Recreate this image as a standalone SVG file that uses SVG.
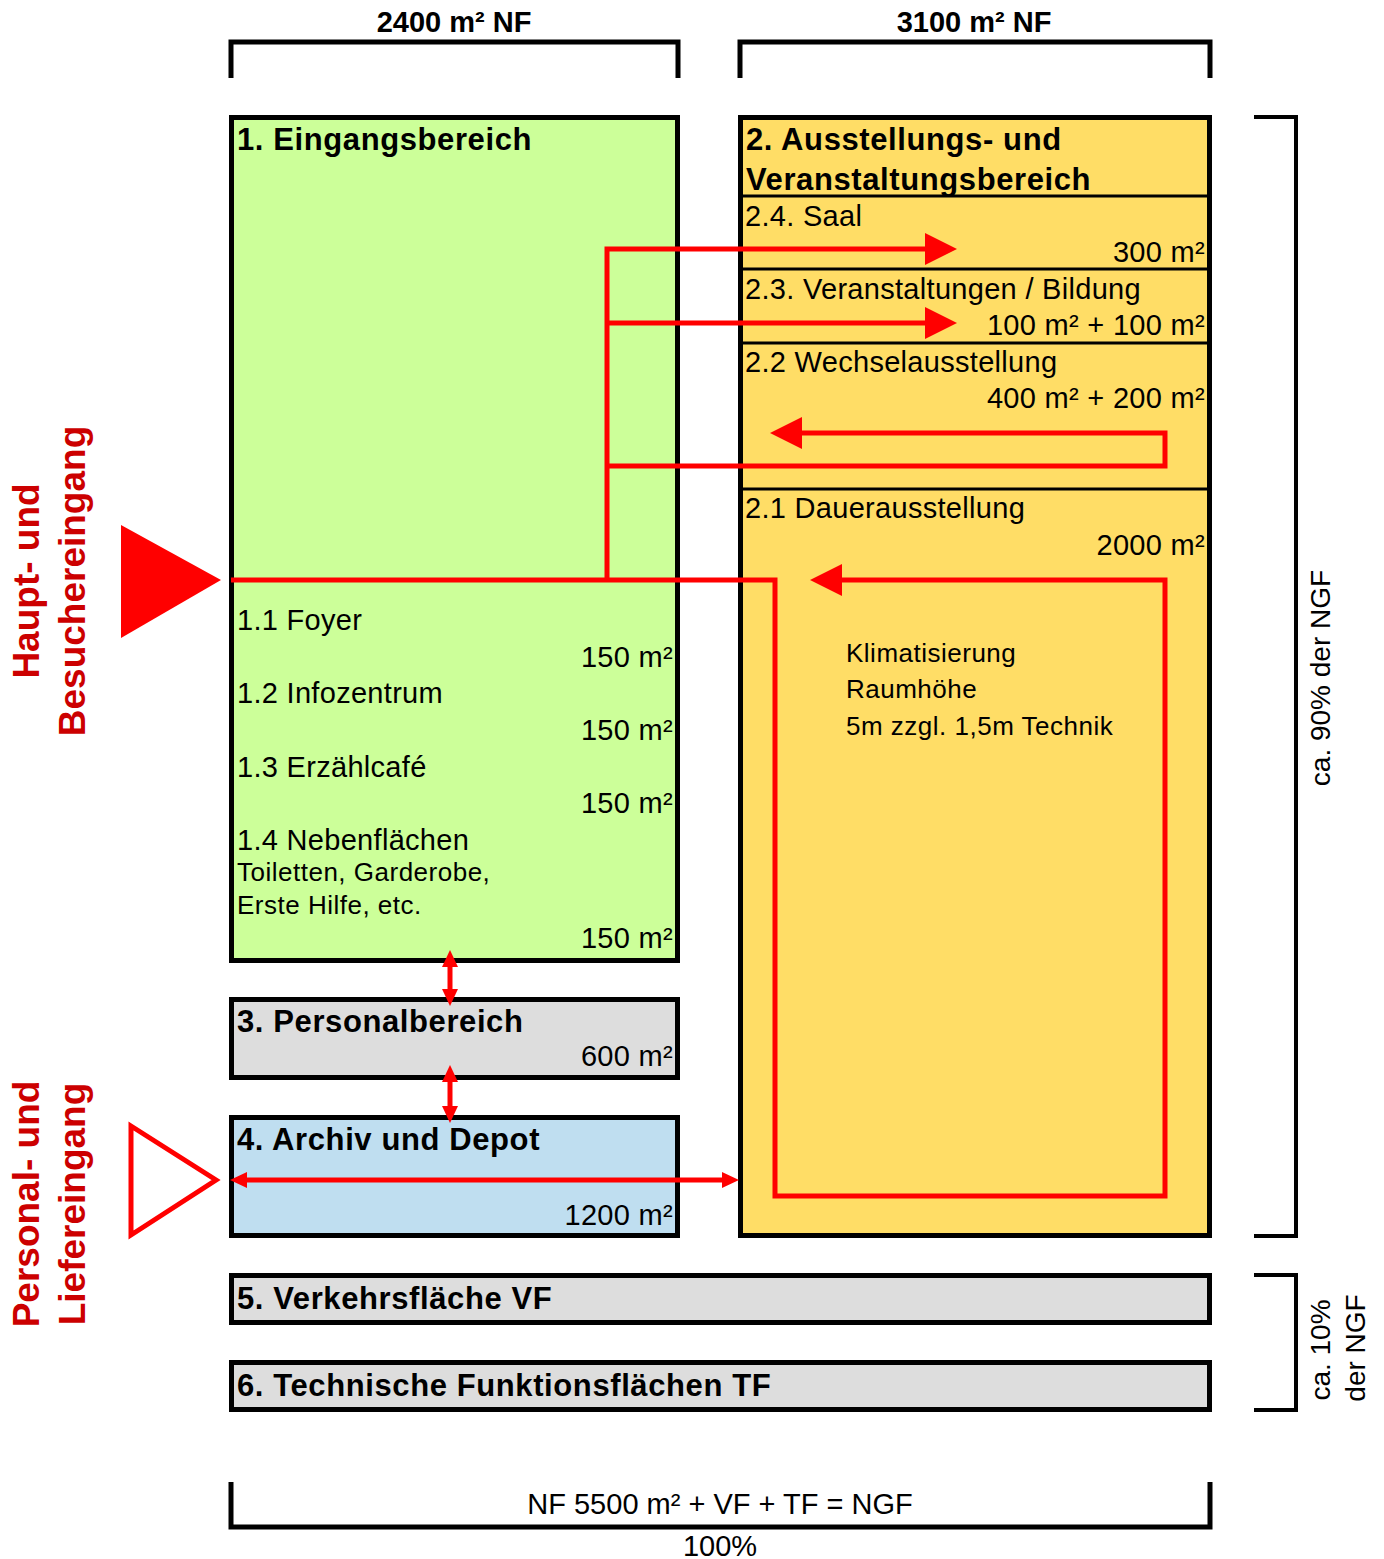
<svg xmlns="http://www.w3.org/2000/svg" width="1384" height="1559" viewBox="0 0 1384 1559">
<style>
text{font-family:"Liberation Sans",Arial,sans-serif;fill:#000}
.t{font-size:31px;font-weight:bold;letter-spacing:0.6px}
.l{font-size:29px;letter-spacing:0.3px}
.s{font-size:26px;letter-spacing:0.5px}
.r{text-anchor:end}
.c{text-anchor:middle}
.box{stroke:#000;stroke-width:5}
.div{stroke:#000;stroke-width:3}
.br{fill:none;stroke:#000;stroke-width:5}
.flow{fill:none;stroke:#f00;stroke-width:5;stroke-linejoin:miter}
.red{font-size:37px;font-weight:bold;fill:#cc0000;text-anchor:middle}
</style>
<defs>
<marker id="ah" markerUnits="userSpaceOnUse" markerWidth="34" markerHeight="34" refX="8" refY="16" orient="auto"><path d="M0,0 L32,16 L0,32 z" fill="#f00"/></marker>
<marker id="sa" markerUnits="userSpaceOnUse" markerWidth="20" markerHeight="20" refX="4" refY="8" orient="auto-start-reverse"><path d="M0,0 L17,8 L0,16 z" fill="#f00"/></marker>
</defs>

<g id="bracket-top-left"><path class="br" d="M231,78 L231,42 L678,42 L678,78"/><text class="c" x="454" y="32" font-size="29" font-weight="bold">2400 m² NF</text></g>
<g id="bracket-top-right"><path class="br" d="M740,78 L740,42 L1210,42 L1210,78"/><text class="c" x="974" y="32" font-size="29" font-weight="bold">3100 m² NF</text></g>

<g id="node-1">
<rect class="box" x="231.5" y="117.5" width="446" height="843" fill="#ccff99"/>
<text class="t" x="237" y="150">1. Eingangsbereich</text>
<text class="l" x="237" y="630">1.1 Foyer</text>
<text class="l r" x="673" y="667">150 m²</text>
<text class="l" x="237" y="703">1.2 Infozentrum</text>
<text class="l r" x="673" y="740">150 m²</text>
<text class="l" x="237" y="777">1.3 Erzählcafé</text>
<text class="l r" x="673" y="813">150 m²</text>
<text class="l" x="237" y="850">1.4 Nebenflächen</text>
<text class="s" x="237" y="881">Toiletten, Garderobe,</text>
<text class="s" x="237" y="914">Erste Hilfe, etc.</text>
<text class="l r" x="673" y="948">150 m²</text>
</g>

<g id="node-2">
<rect class="box" x="740.5" y="117.5" width="469" height="1118" fill="#ffdd66"/>
<line class="div" x1="740" y1="196" x2="1210" y2="196"/>
<line class="div" x1="740" y1="269" x2="1210" y2="269"/>
<line class="div" x1="740" y1="343" x2="1210" y2="343"/>
<line class="div" x1="740" y1="489" x2="1210" y2="489"/>
<text class="t" x="746" y="150">2. Ausstellungs- und</text>
<text class="t" x="746" y="190">Veranstaltungsbereich</text>
<text class="l" x="745" y="226">2.4. Saal</text>
<text class="l r" x="1205" y="262">300 m²</text>
<text class="l" x="745" y="299">2.3. Veranstaltungen / Bildung</text>
<text class="l r" x="1205" y="335">100 m² + 100 m²</text>
<text class="l" x="745" y="372">2.2 Wechselausstellung</text>
<text class="l r" x="1205" y="408">400 m² + 200 m²</text>
<text class="l" x="745" y="518">2.1 Dauerausstellung</text>
<text class="l r" x="1205" y="555">2000 m²</text>
<text class="s" x="846" y="662">Klimatisierung</text>
<text class="s" x="846" y="698">Raumhöhe</text>
<text class="s" x="846" y="735">5m zzgl. 1,5m Technik</text>
</g>

<g id="node-3">
<rect class="box" x="231.5" y="999.5" width="446" height="78" fill="#dddddd"/>
<text class="t" x="237" y="1032">3. Personalbereich</text>
<text class="l r" x="673" y="1066">600 m²</text>
</g>

<g id="node-4">
<rect class="box" x="231.5" y="1117.5" width="446" height="118" fill="#bfdef0"/>
<text class="t" x="237" y="1150">4. Archiv und Depot</text>
<text class="l r" x="673" y="1225">1200 m²</text>
</g>

<g id="node-5">
<rect class="box" x="231.5" y="1275.5" width="978" height="47" fill="#dddddd"/>
<text class="t" x="237" y="1309">5. Verkehrsfläche VF</text>
</g>

<g id="node-6">
<rect class="box" x="231.5" y="1362.5" width="978" height="47" fill="#dddddd"/>
<text class="t" x="237" y="1396">6. Technische Funktionsflächen TF</text>
</g>

<g id="entrance-main">
<polygon points="121,525 221,580 121,638" fill="#f00"/>
<text class="red" transform="translate(39,581) rotate(-90)">Haupt- und</text>
<text class="red" transform="translate(85,581) rotate(-90)">Besuchereingang</text>
</g>

<g id="entrance-staff">
<polygon points="131,1126 216,1180 131,1235" fill="#fff" stroke="#f00" stroke-width="5"/>
<text class="red" transform="translate(39,1204) rotate(-90)">Personal- und</text>
<text class="red" transform="translate(85,1204) rotate(-90)">Liefereingang</text>
</g>

<g id="connectors">
<path class="flow" d="M231,580 L775,580 L775,1196 L1165,1196 L1165,580 L834,580" marker-end="url(#ah)"/>
<path class="flow" d="M607,580 L607,249 L933,249" marker-end="url(#ah)"/>
<path class="flow" d="M607,323 L933,323" marker-end="url(#ah)"/>
<path class="flow" d="M607,466 L1165,466 L1165,433 L794,433" marker-end="url(#ah)"/>
<path class="flow" d="M450,963 L450,993" marker-start="url(#sa)" marker-end="url(#sa)"/>
<path class="flow" d="M450,1078 L450,1110" marker-start="url(#sa)" marker-end="url(#sa)"/>
<path class="flow" d="M243,1180 L726,1180" marker-start="url(#sa)" marker-end="url(#sa)"/>
</g>

<g id="bracket-90">
<path fill="none" stroke="#000" stroke-width="4" d="M1254,117 L1296,117 L1296,1236 L1254,1236"/>
<text class="c" font-size="28" transform="translate(1330,678) rotate(-90)">ca. 90% der NGF</text>
</g>
<g id="bracket-10">
<path fill="none" stroke="#000" stroke-width="4" d="M1254,1275 L1296,1275 L1296,1410 L1254,1410"/>
<text class="c" font-size="28" transform="translate(1330,1350) rotate(-90)">ca. 10%</text>
<text class="c" font-size="28" transform="translate(1365,1348) rotate(-90)">der NGF</text>
</g>
<g id="bracket-bottom">
<path class="br" d="M231,1482 L231,1527 L1210,1527 L1210,1482"/>
<text class="c" font-size="29" x="720" y="1514">NF 5500 m² + VF + TF = NGF</text>
<text class="c" font-size="29" x="720" y="1556">100%</text>
</g>
</svg>
